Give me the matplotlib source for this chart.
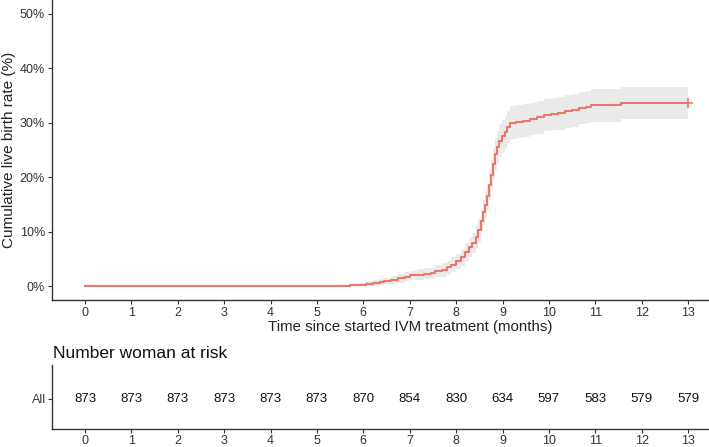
import matplotlib.pyplot as plt

plt.rcParams["font.family"] = ["Liberation Sans", "DejaVu Sans"]

# Kaplan-Meier style cumulative live birth rate (%), step points
time = [0, 5.71, 5.9, 6.05, 6.2, 6.35, 6.45, 6.6, 6.75, 6.9, 7.0, 7.15, 7.3, 7.45,
        7.55, 7.7, 7.8, 7.9, 8.0, 8.1, 8.2, 8.28, 8.35, 8.42, 8.48, 8.53, 8.58,
        8.63, 8.67, 8.71, 8.75, 8.79, 8.83, 8.88, 8.93, 8.98, 9.05, 9.1, 9.17,
        9.3, 9.45, 9.6, 9.75, 9.9, 10.05, 10.2, 10.35, 10.5, 10.65, 10.8, 10.9,
        11.55, 13.0]
rate = [0, 0.2, 0.3, 0.5, 0.6, 0.8, 1.0, 1.2, 1.5, 1.8, 2.0, 2.1, 2.3, 2.4,
        2.8, 3.0, 3.5, 4.0, 4.6, 5.3, 6.3, 7.2, 8.0, 9.0, 10.3, 12.0, 13.6,
        15.0, 16.5, 18.5, 20.5, 22.5, 24.3, 25.6, 26.7, 27.5, 28.3, 29.2, 30.0,
        30.2, 30.4, 30.7, 31.0, 31.4, 31.6, 31.7, 32.1, 32.3, 32.7, 32.9, 33.2,
        33.6, 33.6]
lower = [0, 0.0, 0.0, 0.1, 0.1, 0.3, 0.4, 0.5, 0.7, 1.0, 1.1, 1.2, 1.3, 1.4,
         1.7, 1.8, 2.3, 2.7, 3.2, 3.8, 4.6, 5.4, 6.1, 7.0, 8.2, 9.8, 11.3,
         12.6, 14.0, 15.9, 17.8, 19.7, 21.4, 22.7, 23.7, 24.5, 25.3, 26.2, 27.0,
         27.2, 27.4, 27.7, 28.0, 28.4, 28.6, 28.7, 29.1, 29.3, 29.7, 29.9, 30.2,
         30.6, 30.6]
upper = [0, 0.5, 0.6, 0.9, 1.1, 1.4, 1.6, 1.9, 2.3, 2.6, 2.9, 3.1, 3.3, 3.4,
         3.9, 4.2, 4.7, 5.3, 6.0, 6.8, 7.9, 8.9, 9.8, 11.0, 12.4, 14.2, 15.9,
         17.4, 19.0, 21.1, 23.2, 25.3, 27.2, 28.5, 29.7, 30.5, 31.3, 32.2, 33.0,
         33.2, 33.4, 33.7, 34.0, 34.4, 34.6, 34.7, 35.1, 35.3, 35.7, 35.9, 36.2,
         36.6, 36.6]

months = list(range(0, 14))
at_risk = [873, 873, 873, 873, 873, 873, 870, 854, 830, 634, 597, 583, 579, 579]

line_col = "#E8776C"
dark = "#333333"

fig = plt.figure(figsize=(7.09, 4.47), dpi=100)
W, H = 709, 447

# main curve
ax = fig.add_axes([52 / W, (H - 300) / H, (709 - 52) / W, 300 / H])
ax.fill_between(time, lower, upper, step="post", color="#EAEAEA", linewidth=0)
ax.step(time, rate, where="post", color=line_col, linewidth=1.5)
ax.plot([time[-1]], [rate[-1]], marker="+", color=line_col, markersize=7, mew=1.2)
ax.set_xlim(-0.71, 13.45)
ax.set_ylim(-2.5, 52.5)
ax.set_xticks(months)
ax.set_yticks([0, 10, 20, 30, 40, 50])
ax.set_yticklabels(["0%", "10%", "20%", "30%", "40%", "50%"])
for s in ["top", "right"]:
    ax.spines[s].set_visible(False)
for s in ["left", "bottom"]:
    ax.spines[s].set_color(dark)
    ax.spines[s].set_linewidth(1.0)
ax.tick_params(labelsize=9, colors=dark, length=3, width=0.8, pad=2)
ax.set_ylabel("Cumulative live birth rate (%)", fontsize=11, color="#222222", labelpad=3)
fig.text(410 / W, 1 - 327 / H, "Time since started IVM treatment (months)",
         fontsize=10.8, color="#222222", ha="center", va="center")

# risk table
ax2 = fig.add_axes([52 / W, (H - 429) / H, (709 - 52) / W, 64 / H])
ax2.set_xlim(-0.71, 13.45)
ax2.set_ylim(0, 2)
for m, n in zip(months, at_risk):
    ax2.text(m, 0.95, str(n), ha="center", va="center", fontsize=9.5, color="#111111")
ax2.set_xticks(months)
ax2.set_yticks([0.95])
ax2.set_yticklabels(["All"])
for s in ["top", "right"]:
    ax2.spines[s].set_visible(False)
for s in ["left", "bottom"]:
    ax2.spines[s].set_color(dark)
    ax2.spines[s].set_linewidth(1.0)
ax2.tick_params(labelsize=9, colors=dark, length=3, width=0.8, pad=1.5)
fig.text(53 / W, 1 - 353 / H, "Number woman at risk", fontsize=12.5,
         color="#111111", ha="left", va="center")

plt.savefig("out.png", dpi=100)
